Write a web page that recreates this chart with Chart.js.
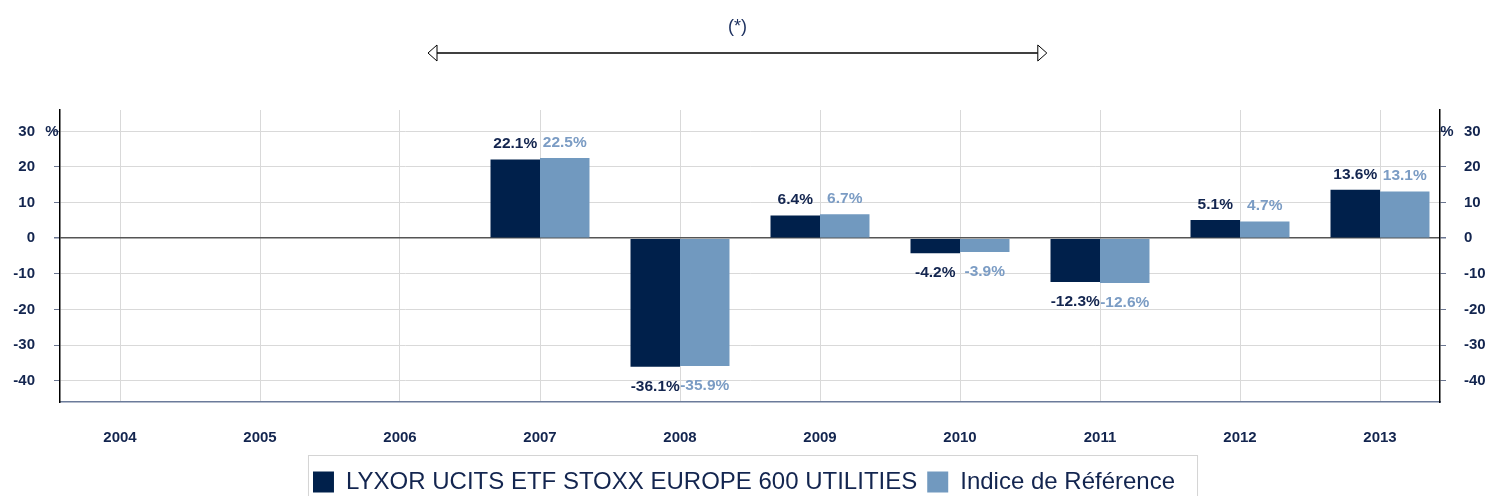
<!DOCTYPE html>
<html>
<head>
<meta charset="utf-8">
<script src="https://cdn.jsdelivr.net/npm/chart.js@4.4.1/dist/chart.umd.min.js"></script>
<style>
  html, body { margin: 0; padding: 0; background: #fff; }
  #wrap { width: 1488px; height: 496px; overflow: hidden; }
</style>
</head>
<body>
<div id="wrap"><canvas id="perf" width="1488" height="504"></canvas></div>
<script>
// data
var years = ['2004', '2005', '2006', '2007', '2008', '2009', '2010', '2011', '2012', '2013'];
var fundValues = [null, null, null, 22.1, -36.1, 6.4, -4.2, -12.3, 5.1, 13.6];
var indexValues = [null, null, null, 22.5, -35.9, 6.7, -3.9, -12.6, 4.7, 13.1];
var yTicks = [-40, -30, -20, -10, 0, 10, 20, 30];
var seriesNames = ['LYXOR UCITS ETF STOXX EUROPE 600 UTILITIES', 'Indice de Référence'];

// period arrow (*) in category units
var arrowFrom = 2.2, arrowTo = 6.62;

var NAVY = '#00204b';
var LIGHT = '#7199bf';
var TXT = '#13254f';
var FONT = "'Liberation Sans', Arial, sans-serif";

var toPoints = function(vals) {
    return vals.map((v, i) => ({x: i, y: v}));
};

var valueLabels = {
    id: 'valueLabels',
    afterDatasetsDraw(chart) {
        var ctx = chart.ctx;
        var colors = [TXT, '#7b9cc4'];
        var all = [fundValues, indexValues];
        ctx.save();
        ctx.font = 'bold 15.5px ' + FONT;
        ctx.textAlign = 'center';
        ctx.textBaseline = 'middle';
        all.forEach((vals, d) => {
            var meta = chart.getDatasetMeta(d);
            ctx.fillStyle = colors[d];
            meta.data.forEach((bar, i) => {
                var v = vals[i];
                if (v === null) return;
                var y = v >= 0 ? bar.y - 15.5 : bar.y + 19.5;
                ctx.fillText(v.toFixed(1) + '%', bar.x, y);
            });
        });
        ctx.restore();
    }
};

var extras = {
    id: 'extras',
    afterDraw(chart) {
        var ctx = chart.ctx;
        var xs = chart.scales.x, ys = chart.scales.y, ys2 = chart.scales.y2;
        ctx.save();
        // % units next to the top tick
        ctx.font = 'bold 15px ' + FONT;
        ctx.fillStyle = TXT;
        ctx.textBaseline = 'middle';
        ctx.textAlign = 'center';
        ctx.fillText('%', xs.left - 8, ys.getPixelForValue(30));
        ctx.fillText('%', ys2.left + 7, ys2.getPixelForValue(30));

        // period arrow
        var x1 = xs.getPixelForValue(arrowFrom), x2 = xs.getPixelForValue(arrowTo);
        var ay = 53;
        ctx.strokeStyle = '#000';
        ctx.lineWidth = 1.5;
        ctx.beginPath();
        ctx.moveTo(x1 + 9, ay);
        ctx.lineTo(x2 - 9, ay);
        ctx.stroke();
        ctx.lineWidth = 1;
        ctx.fillStyle = '#fff';
        [[x1, 9], [x2, -9]].forEach(h => {
            ctx.beginPath();
            ctx.moveTo(h[0], ay);
            ctx.lineTo(h[0] + h[1], ay - 8);
            ctx.lineTo(h[0] + h[1], ay + 8);
            ctx.closePath();
            ctx.fill();
            ctx.stroke();
        });
        ctx.font = '18px ' + FONT;
        ctx.fillStyle = '#1b2f5e';
        ctx.fillText('(*)', xs.getPixelForValue(4.41), 27);

        // legend frame
        var lg = chart.legend;
        if (lg && lg.legendHitBoxes && lg.legendHitBoxes.length) {
            var hb = lg.legendHitBoxes;
            var last = hb[hb.length - 1];
            var left = hb[0].left - 5;
            var right = last.left + last.width + 22;
            var top = hb[0].top - 15;
            ctx.strokeStyle = '#d4d4d4';
            ctx.lineWidth = 1;
            ctx.strokeRect(left + 0.5, top + 0.5, right - left, 200);
        }
        ctx.restore();
    }
};

var yAxis = function(side) {
    return {
        type: 'linear',
        position: side,
        min: -46,
        max: 36,
        afterBuildTicks: s => { s.ticks = yTicks.map(v => ({value: v})); },
        afterFit: s => { s.width = side === 'left' ? 60 : 48; },
        border: {display: true, color: '#000', width: 1.5},
        grid: {
            drawOnChartArea: side === 'left',
            color: c => (c.tick && c.tick.value === 0) ? '#555555' : '#d9d9d9',
            lineWidth: c => (c.tick && c.tick.value === 0) ? 1.5 : 1,
            tickColor: '#6a7590',
            tickLength: 6
        },
        ticks: {
            color: TXT,
            font: {family: FONT, size: 15, weight: 'bold'},
            padding: side === 'left' ? 19 : 18
        }
    };
};

new Chart(document.getElementById('perf'), {
    type: 'bar',
    data: {
        datasets: [{
            label: seriesNames[0],
            data: toPoints(fundValues),
            backgroundColor: NAVY,
            borderWidth: 0,
            yAxisID: 'y'
        }, {
            label: seriesNames[1],
            data: toPoints(indexValues),
            backgroundColor: LIGHT,
            borderWidth: 0,
            yAxisID: 'y'
        }]
    },
    options: {
        responsive: false,
        animation: false,
        categoryPercentage: 0.707,
        barPercentage: 1,
        layout: {padding: {top: 110, left: 0, right: 0, bottom: 0}},
        scales: {
            x: {
                type: 'linear',
                offset: false,
                min: -3 / 7,
                max: 9 + 3 / 7,
                afterBuildTicks: s => { s.ticks = years.map((y, i) => ({value: i})); },
                afterFit: s => { s.height = 58; },
                border: {display: true, color: '#6b7b9a', width: 1.5},
                grid: {color: '#d9d9d9', drawTicks: false, offset: false},
                ticks: {
                    color: TXT,
                    font: {family: FONT, size: 15, weight: 'bold'},
                    padding: 27,
                    maxRotation: 0,
                    callback: v => years[v]
                }
            },
            y: yAxis('left'),
            y2: yAxis('right')
        },
        plugins: {
            legend: {
                position: 'bottom',
                labels: {
                    color: TXT,
                    font: {family: FONT, size: 24},
                    boxWidth: 21,
                    boxHeight: 21,
                    padding: 10
                }
            },
            tooltip: {enabled: false}
        }
    },
    plugins: [valueLabels, extras]
});
</script>
</body>
</html>
